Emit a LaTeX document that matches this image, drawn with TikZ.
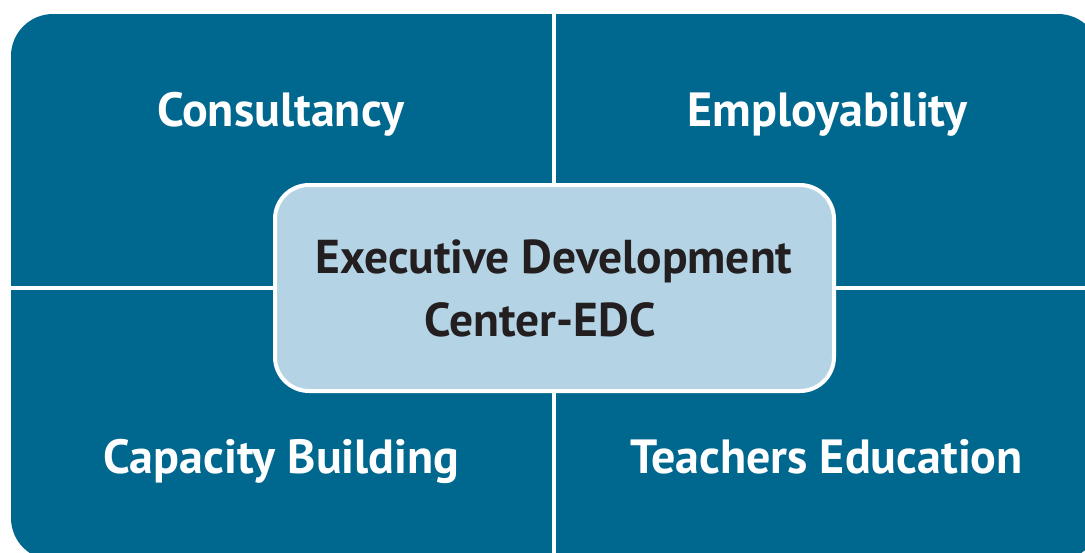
\documentclass[tikz,border=0pt]{standalone}
\usepackage{fontspec}
\setmainfont{PT Sans}
\definecolor{quad}{HTML}{00678F}
\definecolor{centerfill}{HTML}{B4D4E5}
\definecolor{darktext}{HTML}{231F20}
\tikzset{
  quadlabel/.style={text=white, font=\bfseries\fontsize{48}{52}\selectfont, inner sep=0pt, anchor=base},
  centerlabel/.style={text=darktext, font=\bfseries\fontsize{47.5}{65}\selectfont, inner sep=0pt, align=center},
  divider/.style={draw=white, line width=4pt},
  centerbox/.style={draw=white, line width=4pt, fill=centerfill, rounded corners=34pt}
}
\begin{document}
\begin{tikzpicture}[x=1pt,y=-1pt]
\useasboundingbox (0,0) rectangle (1085,552);
\begin{scope}
\clip (0,0) rectangle (1085,552);
\fill[quad, rounded corners=42pt] (11,14) rectangle (1100,560);
\draw[divider] (553.5,10) -- (553.5,565);
\draw[divider, line width=3.5pt] (5,288) -- (1105,288);
\end{scope}
\node[quadlabel] (consult) at (280.5,126) {Consultancy};
\node[quadlabel] (employ) at (827.5,126) {Employability};
\node[quadlabel] (capacity) at (281.5,473) {Capacity Building};
\node[quadlabel] (teachers) at (826.5,473) {Teachers Education};
\draw[centerbox] (275,185) rectangle (834,391);
\node[centerlabel, anchor=base] (edc) at (554,273) {Executive Development};
\node[centerlabel, anchor=base] (edc2) at (540,336) {Center-EDC};
\end{tikzpicture}
\end{document}
